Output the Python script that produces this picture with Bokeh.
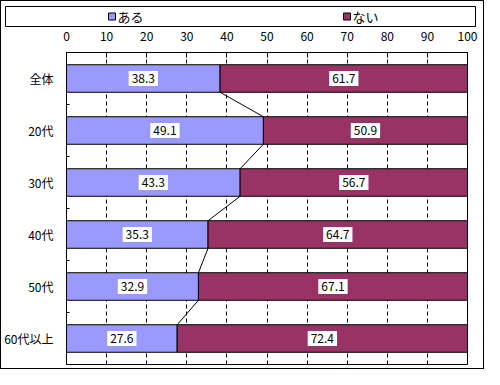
import numpy as np
from bokeh.plotting import figure
from bokeh.layouts import column
from bokeh.models import (Range1d, FixedTicker, LinearAxis, ColumnDataSource)
from bokeh.core.properties import value
from bokeh.embed import file_html
from bokeh.resources import INLINE

categories = ["全体", "20代", "30代", "40代", "50代", "60代以上"]
aru = [38.3, 49.1, 43.3, 35.3, 32.9, 27.6]
nai = [61.7, 50.9, 56.7, 64.7, 67.1, 72.4]
series_names = ["ある", "ない"]
colors = ["#9999FF", "#993366"]
x_ticks = [0, 10, 20, 30, 40, 50, 60, 70, 80, 90, 100]

FONT = "Noto Sans CJK JP"
W = 482

# ---------------- legend strip ----------------
LH = 26
leg = figure(width=W, height=LH, x_range=Range1d(0, W), y_range=Range1d(LH, 0),
             output_backend="svg", toolbar_location=None, min_border=0)
leg.frame_align = False
leg.axis.visible = False
leg.grid.visible = False
leg.outline_line_color = None
leg.background_fill_color = "white"
leg.border_fill_color = "white"
leg.quad(left=[4], right=[474], top=[5], bottom=[25], fill_color=None,
         line_color="black", line_width=1)
leg_x = [107, 342]
leg.rect(x=[lx + 3.5 for lx in leg_x], y=[15, 15], width=7, height=7,
         fill_color=colors, line_color="black", line_width=1)
leg.text(x=[lx + 9 for lx in leg_x], y=[15, 15], text=series_names,
         text_font=value(FONT), text_font_size="13px", text_color="black",
         text_baseline="middle", text_align="left")

# ---------------- main chart ----------------
n = len(categories)
ypos = list(range(n))
left2 = aru
right2 = [a + b for a, b in zip(aru, nai)]

p = figure(width=W, height=341, x_range=Range1d(0, 100),
           y_range=Range1d(n - 0.5, -0.5), x_axis_location="above",
           output_backend="svg", toolbar_location=None,
           min_border_left=59, min_border_right=16, min_border_top=25,
           min_border_bottom=4)
p.frame_align = False
p.background_fill_color = "white"
p.border_fill_color = "white"
p.outline_line_color = "black"
p.outline_line_width = 1

xa = p.xaxis[0]
xa.ticker = FixedTicker(ticks=x_ticks)
xa.major_tick_in = 5
xa.major_tick_out = 0
xa.minor_tick_line_color = None
xa.major_label_standoff = 12
xa.major_label_text_font = FONT
xa.major_label_text_font_size = "12px"
xa.major_label_text_color = "black"
xa.axis_line_color = "black"

ya = p.yaxis[0]
ya.ticker = FixedTicker(ticks=ypos, minor_ticks=[i + 0.5 for i in range(n - 1)])
ya.major_label_overrides = {i: c for i, c in enumerate(categories)}
ya.major_tick_line_color = None
ya.minor_tick_in = 3
ya.minor_tick_out = 0
ya.minor_tick_line_color = "black"
ya.major_label_standoff = 7
ya.major_label_text_font = FONT
ya.major_label_text_font_size = "12px"
ya.major_label_text_color = "black"
ya.axis_line_color = "black"

p.ygrid.visible = False
p.xgrid.ticker = FixedTicker(ticks=x_ticks[1:-1])
p.xgrid.grid_line_color = "black"
p.xgrid.grid_line_dash = "4 3"
p.xgrid.grid_line_width = 1

src = ColumnDataSource(dict(y=ypos, aru=aru, nai=nai, left2=left2, right2=right2,
                            c1=[a / 2 for a in aru],
                            c2=[a + b / 2 for a, b in zip(aru, nai)],
                            t1=[f"{v:.1f}" for v in aru],
                            t2=[f"{v:.1f}" for v in nai]))
bh = 0.53
p.hbar(y="y", left=0, right="aru", height=bh, source=src,
       fill_color=colors[0], line_color="black", line_width=1)
p.hbar(y="y", left="left2", right="right2", height=bh, source=src,
       fill_color=colors[1], line_color="black", line_width=1)

# series connector lines
p.segment(x0=aru[:-1], y0=[i + bh / 2 for i in ypos[:-1]],
          x1=aru[1:], y1=[i - bh / 2 for i in ypos[1:]],
          line_color="black", line_width=1)

for xcol, tcol in (("c1", "t1"), ("c2", "t2")):
    p.text(x=xcol, y="y", text=tcol, source=src, text_align="center",
           text_baseline="middle", text_font=value(FONT),
           text_font_size="12px", text_color="black",
           background_fill_color="white", padding=3)

layout = column(leg, p, spacing=0, styles={"border": "1px solid black"})

open("out.html", "w").write(file_html(layout, INLINE))
